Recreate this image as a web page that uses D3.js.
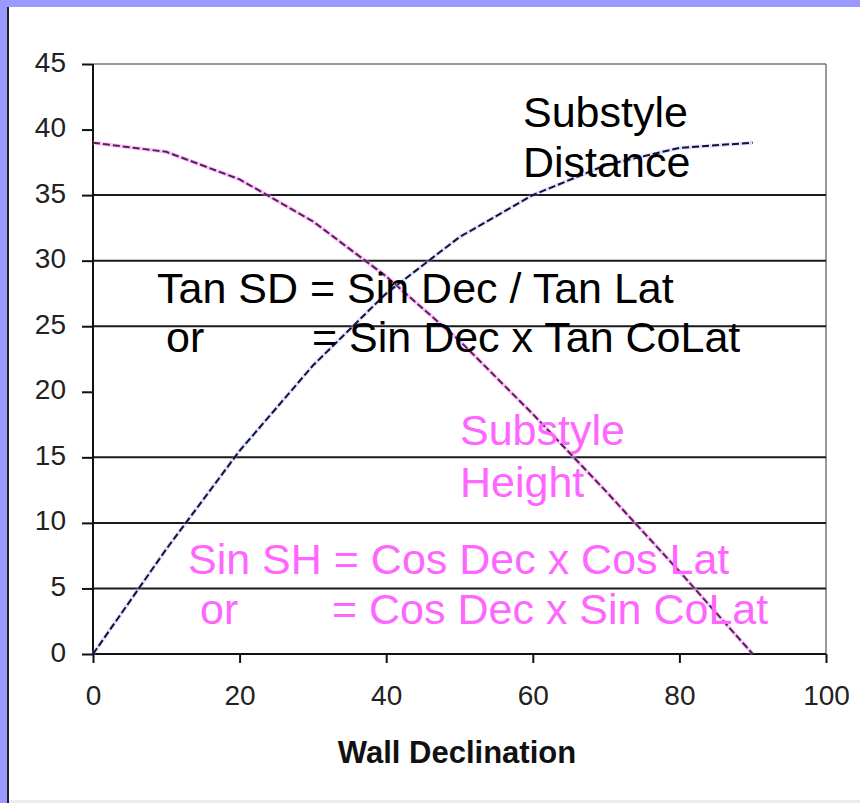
<!DOCTYPE html>
<html>
<head>
<meta charset="utf-8">
<script src="https://cdn.jsdelivr.net/npm/d3@7"></script>
<style>
  html, body { margin: 0; padding: 0; background: #fff; }
  svg { display: block; }
</style>
</head>
<body>
<svg id="chart" width="860" height="803"></svg>
<script>
// ---- data ----
const declination = [0, 10, 20, 30, 40, 50, 60, 70, 80, 90];
const substyleDistance = [0, 8.0, 15.5, 22.0, 27.5, 31.8, 35.0, 37.3, 38.6, 39.0];
const substyleHeight = [39.0, 38.3, 36.2, 33.0, 28.8, 23.9, 18.3, 12.4, 6.3, 0];
const yTickValues = [0, 5, 10, 15, 20, 25, 30, 35, 40, 45];
const gridValues = [5, 10, 15, 25, 30, 35];
const xTickValues = [0, 20, 40, 60, 80, 100];
const xTitle = "Wall Declination";
const sdLabel = ["Substyle", "Distance"];
const shLabel = ["Substyle", "Height"];
const sdFormula = ["Tan SD = Sin Dec / Tan Lat", "or", "= Sin Dec x Tan CoLat"];
const shFormula = ["Sin SH = Cos Dec x Cos Lat", "or", "= Cos Dec x Sin CoLat"];

const svg = d3.select("#chart");
const W = 860, H = 803;
const m = { left: 93, right: 826, top: 64, bottom: 654 };
const pink = "#ff66ff";

// frame
svg.append("rect").attr("x", 0).attr("y", 0).attr("width", W).attr("height", H).attr("fill", "#fff");
svg.append("rect").attr("x", 0).attr("y", 800).attr("width", W).attr("height", 3).attr("fill", "#ececec");
svg.append("rect").attr("x", 0).attr("y", 0).attr("width", W).attr("height", 7).attr("fill", "#9999ff");
svg.append("rect").attr("x", 0).attr("y", 0).attr("width", 7).attr("height", H).attr("fill", "#9999ff");
svg.append("rect").attr("x", 7).attr("y", 7).attr("width", 2).attr("height", H - 7).attr("fill", "#222");

const x = d3.scaleLinear().domain([0, 100]).range([m.left, m.right]);
const y = d3.scaleLinear().domain([0, 45]).range([m.bottom, m.top]);

// plot border (top/right gray)
svg.append("line").attr("x1", m.left).attr("x2", m.right).attr("y1", m.top).attr("y2", m.top)
  .attr("stroke", "#777").attr("stroke-width", 1.5);
svg.append("line").attr("x1", m.right).attr("x2", m.right).attr("y1", m.top).attr("y2", m.bottom)
  .attr("stroke", "#777").attr("stroke-width", 1.5);

// gridlines
svg.append("g").selectAll("line").data(gridValues).join("line")
  .attr("x1", m.left).attr("x2", m.right)
  .attr("y1", d => y(d)).attr("y2", d => y(d))
  .attr("stroke", "#1a1a1a").attr("stroke-width", 2);

// axes
const yAxis = svg.append("g").attr("transform", `translate(${m.left},0)`)
  .call(d3.axisLeft(y).tickValues(yTickValues).tickSize(11).tickPadding(16).tickFormat(d3.format("d")));
const xAxis = svg.append("g").attr("transform", `translate(0,${m.bottom})`)
  .call(d3.axisBottom(x).tickValues(xTickValues).tickSize(9).tickPadding(22).tickFormat(d3.format("d")));
[yAxis, xAxis].forEach(g => {
  g.select(".domain").attr("stroke", "#111").attr("stroke-width", 2);
  g.selectAll(".tick line").attr("stroke", "#111").attr("stroke-width", 2);
  g.selectAll(".tick text").attr("font-family", "Liberation Sans, Arial, sans-serif")
    .attr("font-size", 28).attr("fill", "#222");
});
xAxis.select(".domain").attr("d", `M${m.left},0H${m.right}`);
yAxis.select(".domain").attr("d", `M0,${m.bottom}V${m.top}`);
yAxis.selectAll(".tick text").attr("dy", "0.25em");

// x title
svg.append("text").attr("x", 457).attr("y", 763).attr("text-anchor", "middle")
  .attr("font-family", "Liberation Sans, Arial, sans-serif").attr("font-weight", "bold")
  .attr("font-size", 31).attr("fill", "#111").text(xTitle);

// series lines
const sdPts = declination.map((d, i) => [d, substyleDistance[i]]);
const shPts = declination.map((d, i) => [d, substyleHeight[i]]);
const line = d3.line().x(d => x(d[0])).y(d => y(d[1]));

svg.append("path").attr("d", line(shPts)).attr("fill", "none")
  .attr("stroke", "#ff88ff").attr("stroke-width", 4).attr("stroke-opacity", 0.5);
svg.append("path").attr("d", line(shPts)).attr("fill", "none")
  .attr("stroke", "#552255").attr("stroke-width", 2).attr("stroke-dasharray", "7,3");

svg.append("path").attr("d", line(sdPts)).attr("fill", "none")
  .attr("stroke", "#9aa0ff").attr("stroke-width", 4).attr("stroke-opacity", 0.3);
svg.append("path").attr("d", line(sdPts)).attr("fill", "none")
  .attr("stroke", "#111133").attr("stroke-width", 2).attr("stroke-dasharray", "7,3");

// annotation text
const font = "Liberation Sans, Arial, sans-serif";
function txt(xp, yp, s, col) {
  svg.append("text").attr("x", xp).attr("y", yp).attr("font-family", font)
    .attr("font-size", 43).attr("fill", col).text(s);
}
txt(523, 127, sdLabel[0], "#000");
txt(523, 177, sdLabel[1], "#000");
txt(157, 303, sdFormula[0], "#000");
txt(166, 352, sdFormula[1], "#000");
txt(312, 352, sdFormula[2], "#000");
txt(460, 445, shLabel[0], pink);
txt(460, 497, shLabel[1], pink);
txt(188, 574, shFormula[0], pink);
txt(200, 624, shFormula[1], pink);
txt(332, 624, shFormula[2], pink);
</script>
</body>
</html>
